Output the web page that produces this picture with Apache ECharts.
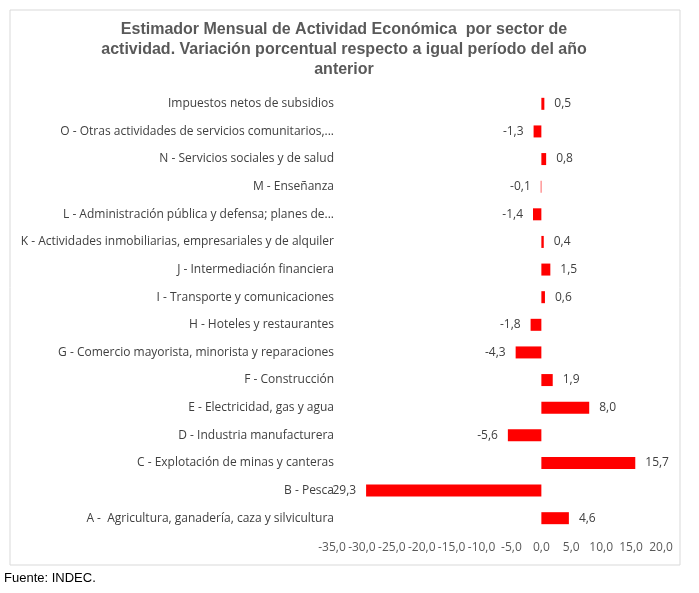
<!DOCTYPE html>
<html><head><meta charset="utf-8">
<script src="https://cdn.jsdelivr.net/npm/echarts@6/dist/echarts.min.js"></script>
<style>html,body{margin:0;padding:0;background:#fff}#c{width:699px;height:593px}</style>
</head><body><div id="c"></div>
<script>
const categories = [
 "A -  Agricultura, ganadería, caza y silvicultura",
 "B - Pesca",
 "C - Explotación de minas y canteras",
 "D - Industria manufacturera",
 "E - Electricidad, gas y agua",
 "F - Construcción",
 "G - Comercio mayorista, minorista y reparaciones",
 "H - Hoteles y restaurantes",
 "I - Transporte y comunicaciones",
 "J - Intermediación financiera",
 "K - Actividades inmobiliarias, empresariales y de alquiler",
 "L - Administración pública y defensa; planes de...",
 "M - Enseñanza",
 "N - Servicios sociales y de salud",
 "O - Otras actividades de servicios comunitarios,...",
 "Impuestos netos de subsidios"
];
const values = [4.6, -29.3, 15.7, -5.6, 8.0, 1.9, -4.3, -1.8, 0.6, 1.5, 0.4, -1.4, -0.1, 0.8, -1.3, 0.5];
const fmt = v => v.toFixed(1).replace('.', ',');
const chart = echarts.init(document.getElementById('c'));
chart.setOption({
  graphic: [
    {type:'rect', shape:{x:10,y:10,width:670,height:555}, style:{fill:'none', stroke:'#d9d9d9', lineWidth:1}},
    {type:'text', x:344, y:20, style:{text:'Estimador Mensual de Actividad Económica  por sector de\nactividad. Variación porcentual respecto a igual período del año\nanterior', font:'bold 16px "Liberation Sans", Arial', fill:'#595959', align:'center', lineHeight:20}},
    {type:'text', left:4, top:572, style:{text:'Fuente: INDEC.', font:'13px "Liberation Sans", Arial', fill:'#000'}}
  ],
  grid: {left:332, right:38, top:90, bottom:61, containLabel:false},
  xAxis: {type:'value', min:-35, max:20, interval:5,
    axisLabel:{formatter:fmt, color:'#595959', fontSize:12, fontFamily:'Open Sans', margin:10},
    splitLine:{show:false}, axisLine:{show:false}, axisTick:{show:false}},
  yAxis: {type:'category', data:categories,
    axisLabel:{color:'#404040', fontSize:12, fontFamily:'Open Sans', margin:-2},
    axisLine:{show:false}, axisTick:{show:false}},
  series: [{type:'bar', barWidth:12, itemStyle:{color:'#ff0000'},
    data: values.map(v => ({value:v, label:{position: v<0?'left':'right'}})),
    label:{show:true, formatter:p=>fmt(p.value), color:'#404040', fontSize:12, fontFamily:'Open Sans', distance:10}}]
});
</script></body></html>
